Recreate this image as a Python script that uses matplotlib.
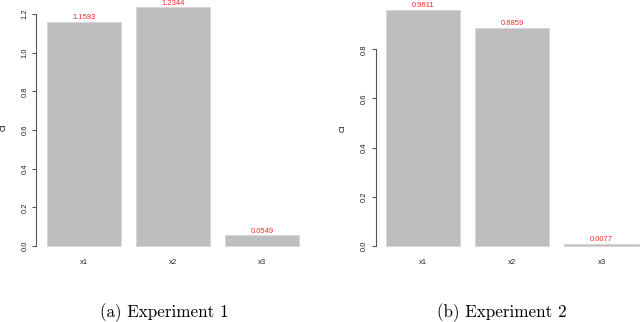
import matplotlib
matplotlib.use("Agg")
import matplotlib.pyplot as plt

plt.rcParams["font.family"] = ["Liberation Sans", "DejaVu Sans"]

categories = ["x1", "x2", "x3"]
exp1_values = [1.1583, 1.2344, 0.0549]
exp2_values = [0.9611, 0.8859, 0.0077]
exp1_yticks = [0.0, 0.2, 0.4, 0.6, 0.8, 1.0, 1.2]
exp2_yticks = [0.0, 0.2, 0.4, 0.6, 0.8]
captions = ["(a) Experiment 1", "(b) Experiment 2"]

W, H = 640, 322
fig = plt.figure(figsize=(W / 100, H / 100), dpi=100)

px_per_x = 74.4
xlim = (0.064, 3.736)
centers = [0.7, 1.9, 3.1]
FS = 5.5


def make_panel(axis_px, zero_px, px_per_y, values, yticks):
    ylo = -0.04 * max(values)
    yhi = max(values) * 1.04
    left = axis_px
    width = (xlim[1] - xlim[0]) * px_per_x
    bottom_px = zero_px - ylo * px_per_y  # pixel from top
    top_px = zero_px - yhi * px_per_y
    ax = fig.add_axes([left / W, 1 - bottom_px / H, width / W, (bottom_px - top_px) / H])
    ax.set_xlim(*xlim)
    ax.set_ylim(ylo, yhi)
    ax.bar(centers, values, width=1.0, color="#bebebe", edgecolor="#d6d6d6", linewidth=0.6)
    for s in ["top", "right", "bottom"]:
        ax.spines[s].set_visible(False)
    ax.spines["left"].set_bounds(yticks[0], yticks[-1])
    ax.spines["left"].set_color("#555555")
    ax.spines["left"].set_linewidth(0.8)
    ax.set_yticks(yticks)
    ax.set_yticklabels([f"{t:.1f}" for t in yticks], rotation=90, va="center",
                       fontsize=FS, color="#222222")
    ax.tick_params(axis="y", length=3.2, width=0.8, color="#555555", pad=2.5)
    ax.set_xticks(centers)
    ax.set_xticklabels(categories, fontsize=FS, color="#222222")
    ax.tick_params(axis="x", length=0, pad=2.5)
    for c, v in zip(centers, values):
        ax.annotate(f"{v:.4f}", (c, v), xytext=(0, 3.0), textcoords="offset points",
                    ha="center", va="center", fontsize=FS, color="#ff2a2a",
                    annotation_clip=False)
    return ax


ax1 = make_panel(36.4, 246, 193.3, exp1_values, exp1_yticks)
ax1.set_ylabel("CI", fontsize=FS, labelpad=10)
ax2 = make_panel(375.6, 246, 245.9, exp2_values, exp2_yticks)
ax2.set_ylabel("CI", fontsize=FS, labelpad=10)

fig.text(164 / W, 1 - 313 / H, captions[0], ha="center", va="center",
         fontsize=12.3, family="cmr10")
fig.text(502 / W, 1 - 313 / H, captions[1], ha="center", va="center",
         fontsize=12.3, family="cmr10")

fig.savefig("out.png", dpi=100)
